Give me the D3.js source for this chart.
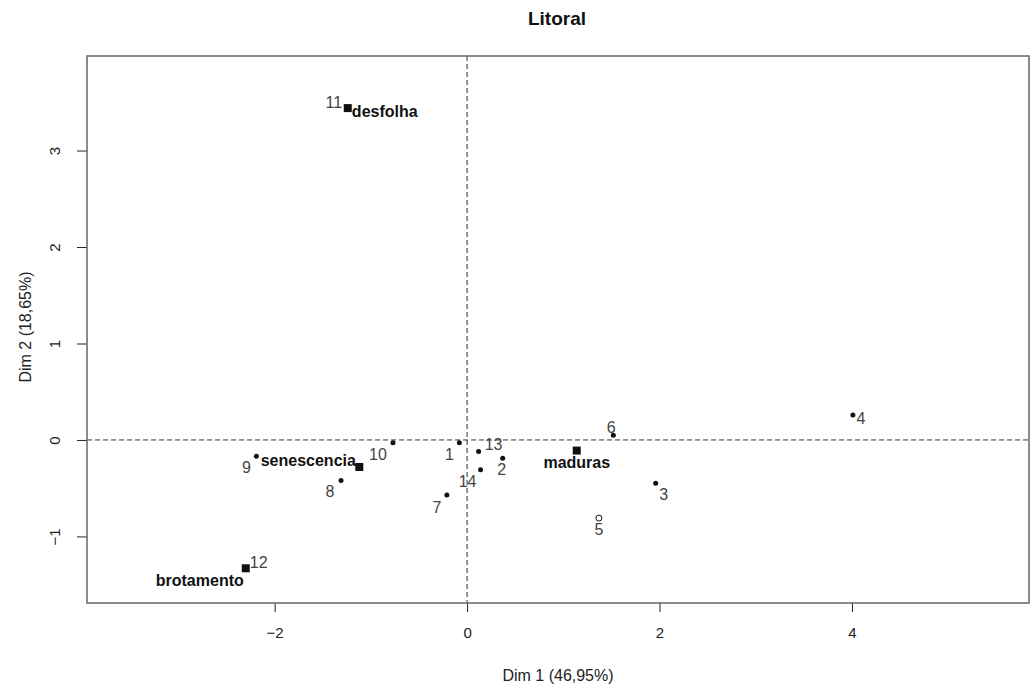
<!DOCTYPE html>
<html>
<head>
<meta charset="utf-8">
<script src="https://cdn.jsdelivr.net/npm/d3@7"></script>
<style>
  body { margin: 0; background: #fff; }
  svg { font-family: "Liberation Sans", Arial, sans-serif; }
</style>
</head>
<body>
<svg></svg>
<script>
// rows (individuals)
var rowNames = ["1", "2", "3", "4", "5", "6", "7", "8", "9", "10", "11", "12", "13", "14"];
var rowDim1 = [-0.08, 0.37, 1.96, 4.01, 1.37, 1.52, -0.21, -1.31, -2.19, -0.77, -1.24, -2.30, 0.12, 0.14];
var rowDim2 = [-0.03, -0.19, -0.45, 0.26, -0.81, 0.05, -0.57, -0.42, -0.17, -0.03, 3.44, -1.33, -0.12, -0.31];
var rowHollow = ["5"];

// columns (categories)
var colNames = ["desfolha", "senescencia", "maduras", "brotamento"];
var colDim1 = [-1.24, -1.12, 1.14, -2.30];
var colDim2 = [3.44, -0.28, -0.11, -1.33];

var xTicks = [-2, 0, 2, 4];
var yTicks = [-1, 0, 1, 2, 3];
var title = "Litoral";
var xLabel = "Dim 1 (46,95%)";
var yLabel = "Dim 2 (18,65%)";

// label offsets in pixels (placement only)
var rowLabelOffset = [[-10, 11], [-1, 11], [8, 11], [8, 3], [0, 11], [-2, -8], [-10, 12],
    [-11, 11], [-10, 11], [-15, 11], [-14, -6], [13, -6], [15, -7], [-13, 11]];
var colLabelOffset = [[37, 3], [-51, -7], [0, 12], [-46, 12]];

var viewWidth = 1030;
var viewHeight = 688;
var margin = {top: 56, right: 1, bottom: 85, left: 87};
var width = viewWidth - margin.left - margin.right;
var height = viewHeight - margin.top - margin.bottom;

var svg = d3.select("svg")
    .attr("width", viewWidth)
    .attr("height", viewHeight);

var g = svg.append("g")
    .attr("transform", "translate(" + margin.left + "," + margin.top + ")");

var x = d3.scaleLinear()
    .domain([-3.95, 5.84])
    .range([0, width]);

var y = d3.scaleLinear()
    .domain([-1.69, 3.98])
    .range([height, 0]);

// axes
var xAxis = g.append("g")
    .attr("transform", "translate(0," + height + ")")
    .call(d3.axisBottom(x).tickValues(xTicks).tickSize(9).tickFormat(d3.format("d")));
var yAxis = g.append("g")
    .call(d3.axisLeft(y).tickValues(yTicks).tickSize(10).tickPadding(22).tickFormat(d3.format("d")));

[xAxis, yAxis].forEach(function(a) {
    a.select(".domain").remove();
    a.selectAll(".tick line").attr("stroke", "#222");
    a.selectAll(".tick text")
        .attr("fill", "#222")
        .style("font-size", "15px");
});
yAxis.selectAll(".tick text")
    .attr("text-anchor", "middle")
    .attr("dy", "0.35em")
    .attr("transform", function() {
        var tx = d3.select(this).attr("x");
        return "translate(" + tx + ",0) rotate(-90) translate(" + (-tx) + ",0)";
    });
xAxis.selectAll(".tick text").attr("dy", "0.35em").attr("y", 30);

// reference lines
g.append("line")
    .attr("x1", 0).attr("x2", width)
    .attr("y1", y(0)).attr("y2", y(0))
    .attr("stroke", "#333").attr("stroke-dasharray", "5,3");
g.append("line")
    .attr("x1", x(0)).attr("x2", x(0))
    .attr("y1", 0).attr("y2", height)
    .attr("stroke", "#333").attr("stroke-dasharray", "5,3");

// frame
g.append("rect")
    .attr("width", width).attr("height", height)
    .attr("fill", "none")
    .attr("stroke", "#666")
    .attr("stroke-width", 1.5);

// row points
rowNames.forEach(function(name, i) {
    var hollow = rowHollow.indexOf(name) >= 0;
    g.append("circle")
        .attr("cx", x(rowDim1[i]))
        .attr("cy", y(rowDim2[i]))
        .attr("r", hollow ? 3 : 2.5)
        .attr("fill", hollow ? "#fff" : "#111")
        .attr("stroke", "#111")
        .attr("stroke-width", hollow ? 1 : 0);
    g.append("text")
        .attr("x", x(rowDim1[i]) + rowLabelOffset[i][0])
        .attr("y", y(rowDim2[i]) + rowLabelOffset[i][1])
        .attr("dy", "0.36em")
        .attr("text-anchor", "middle")
        .attr("fill", "#444")
        .style("font-size", "16px")
        .text(name);
});

// column points
colNames.forEach(function(name, i) {
    g.append("rect")
        .attr("x", x(colDim1[i]) - 4)
        .attr("y", y(colDim2[i]) - 4)
        .attr("width", 8).attr("height", 8)
        .attr("fill", "#111");
    g.append("text")
        .attr("x", x(colDim1[i]) + colLabelOffset[i][0])
        .attr("y", y(colDim2[i]) + colLabelOffset[i][1])
        .attr("dy", "0.36em")
        .attr("text-anchor", "middle")
        .attr("fill", "#111")
        .style("font-size", "16px")
        .style("font-weight", "bold")
        .text(name);
});

// titles
svg.append("text")
    .attr("x", 557).attr("y", 18)
    .attr("dy", "0.36em")
    .attr("text-anchor", "middle")
    .style("font-size", "19px")
    .style("font-weight", "bold")
    .attr("fill", "#111")
    .text(title);

svg.append("text")
    .attr("x", margin.left + width / 2).attr("y", 675)
    .attr("dy", "0.36em")
    .attr("text-anchor", "middle")
    .style("font-size", "16px")
    .attr("fill", "#222")
    .text(xLabel);

svg.append("text")
    .attr("transform", "translate(25,327) rotate(-90)")
    .attr("dy", "0.36em")
    .attr("text-anchor", "middle")
    .style("font-size", "16px")
    .attr("fill", "#222")
    .text(yLabel);
</script>
</body>
</html>
